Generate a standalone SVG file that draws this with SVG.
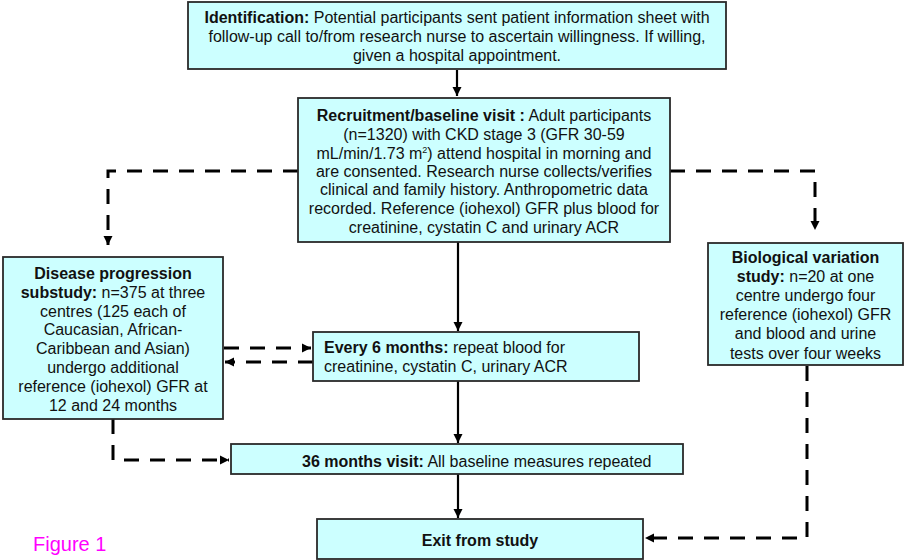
<svg xmlns="http://www.w3.org/2000/svg" width="904" height="560" viewBox="0 0 904 560">
<defs>
<marker id="ah" markerWidth="10" markerHeight="10" refX="9" refY="5" orient="auto" markerUnits="userSpaceOnUse">
<path d="M0,0.5 L9,5 L0,9.5 Z" fill="#000"/>
</marker>
</defs>
<style>
.box{fill:#ccffff;stroke:#2a2a2a;stroke-width:1.8}
.t{font-family:"Liberation Sans",Arial,sans-serif;font-size:16px;fill:#111}
.c{text-anchor:middle}
.b{font-weight:bold}
.solid{fill:none;stroke:#000;stroke-width:2.2}
.dash{fill:none;stroke:#000;stroke-width:3;stroke-dasharray:15 11}
</style>
<rect width="904" height="560" fill="#fff"/>
<g id="connectors">
<line class="solid" x1="457" y1="70" x2="457" y2="96" marker-end="url(#ah)"/>
<line class="solid" x1="458" y1="242" x2="458" y2="331" marker-end="url(#ah)"/>
<line class="solid" x1="458" y1="381" x2="458" y2="443" marker-end="url(#ah)"/>
<line class="solid" x1="458" y1="474" x2="458" y2="518" marker-end="url(#ah)"/>
<path class="dash" d="M298,171 H108 V245" marker-end="url(#ah)"/>
<path class="dash" d="M670,171 H815 V230" marker-end="url(#ah)"/>
<path class="dash" d="M224,348 H311" marker-end="url(#ah)"/>
<path class="dash" d="M313,362 H225" marker-end="url(#ah)"/>
<path class="dash" d="M113,419 V460 H229" marker-end="url(#ah)"/>
<path class="dash" d="M807,366 V538 H645" marker-end="url(#ah)"/>
</g>
<g id="identification">
<rect class="box" x="188" y="2" width="538" height="67"/>
<text class="t c" x="457" y="23"><tspan class="b">Identification:</tspan> Potential participants sent patient information sheet with</text>
<text class="t c" x="457" y="42">follow-up call to/from research nurse to ascertain willingness.  If willing,</text>
<text class="t c" x="457" y="61">given a hospital appointment.</text>
</g>
<g id="recruitment">
<rect class="box" x="298" y="98" width="372" height="144"/>
<text class="t c" x="484" y="121"><tspan class="b">Recruitment/baseline visit :</tspan> Adult participants</text>
<text class="t c" x="484" y="140">(n=1320) with CKD stage 3 (GFR 30-59</text>
<text class="t c" x="484" y="158.5">mL/min/1.73 m<tspan font-size="9" dy="-6">2</tspan><tspan dy="6">) attend hospital in morning and</tspan></text>
<text class="t c" x="484" y="177">are consented. Research nurse collects/verifies</text>
<text class="t c" x="484" y="195">clinical and family history. Anthropometric data</text>
<text class="t c" x="484" y="214">recorded. Reference (iohexol) GFR plus blood for</text>
<text class="t c" x="484" y="232.5">creatinine, cystatin C and urinary ACR</text>
</g>
<g id="disease">
<rect class="box" x="3" y="257" width="220" height="162"/>
<text class="t c" x="113" y="279"><tspan class="b">Disease progression</tspan></text>
<text class="t c" x="113" y="298"><tspan class="b">substudy:</tspan> n=375 at three</text>
<text class="t c" x="113" y="317">centres (125 each of</text>
<text class="t c" x="113" y="335">Caucasian, African-</text>
<text class="t c" x="113" y="354">Caribbean and Asian)</text>
<text class="t c" x="113" y="373">undergo additional</text>
<text class="t c" x="113" y="392">reference (iohexol) GFR at</text>
<text class="t c" x="113" y="411">12 and 24 months</text>
</g>
<g id="biological">
<rect class="box" x="708" y="243" width="195" height="122"/>
<text class="t c" x="805.5" y="263"><tspan class="b">Biological variation</tspan></text>
<text class="t c" x="805.5" y="282"><tspan class="b">study:</tspan> n=20 at one</text>
<text class="t c" x="805.5" y="301">centre undergo four</text>
<text class="t c" x="805.5" y="320">reference (iohexol) GFR</text>
<text class="t c" x="805.5" y="339">and blood and urine</text>
<text class="t c" x="805.5" y="359">tests over four weeks</text>
</g>
<g id="six-months">
<rect class="box" x="313" y="332" width="326" height="49"/>
<text class="t" x="324" y="353"><tspan class="b">Every 6 months:</tspan> repeat blood for</text>
<text class="t" x="324" y="372">creatinine, cystatin C, urinary ACR</text>
</g>
<g id="thirty-six-months">
<rect class="box" x="231" y="444" width="452" height="30"/>
<text class="t" x="302" y="467"><tspan class="b">36 months visit:</tspan> All baseline measures repeated</text>
</g>
<g id="exit">
<rect class="box" x="317" y="519" width="326" height="40"/>
<text class="t c b" x="480" y="546">Exit from study</text>
</g>
<text x="33" y="551" font-family="'Liberation Sans',Arial,sans-serif" font-size="20" fill="#ff00ff">Figure 1</text>
</svg>
